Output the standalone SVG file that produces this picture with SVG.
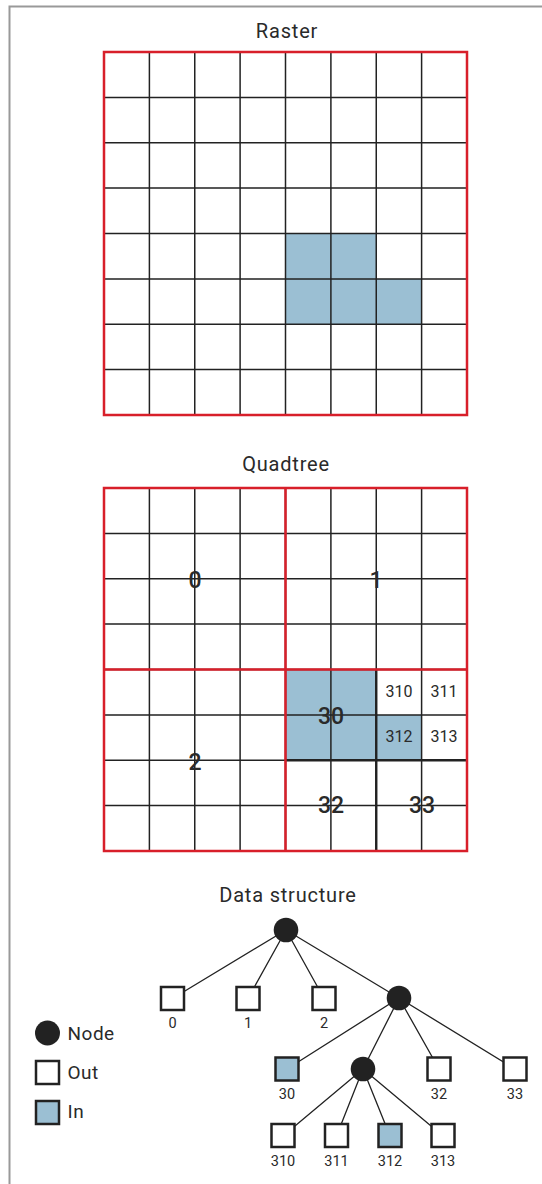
<svg xmlns="http://www.w3.org/2000/svg" xmlns:xlink="http://www.w3.org/1999/xlink" width="542" height="1184" viewBox="0 0 542 1184">
<style>
text{font-family:Roboto,"Liberation Sans",sans-serif;fill:#2a2a2a}
.title{font-size:20px;letter-spacing:0.8px;text-anchor:middle}
.big{font-size:23px;font-weight:500;text-anchor:middle}
.small{font-size:16px;text-anchor:middle}
.lab{font-size:14.5px;text-anchor:middle}
.leg{font-size:19px;letter-spacing:0.5px}
.grid{fill:none;stroke:#222;stroke-width:1.5}
.red{fill:none;stroke:#d81f2a;stroke-width:2.5}
.blue{fill:#9bbfd3}
.edge{stroke:#222;stroke-width:1.3;fill:none}
.out{fill:#fff;stroke:#222;stroke-width:2.5}
.in{fill:#9bbfd3;stroke:#222;stroke-width:2.5}
.node{fill:#222}
</style>
<defs>
<path id="gridlines" d="M149.4 0V363M194.75 0V363M240.1 0V363M285.5 0V363M330.9 0V363M376.25 0V363M421.6 0V363M104 45.4H467M104 90.75H467M104 136.1H467M104 181.5H467M104 226.9H467M104 272.25H467M104 317.6H467"/>
</defs>
<rect x="0" y="0" width="542" height="1184" fill="#fff"/>
<path d="M9.5 1184V6.5H542" fill="none" stroke="#999" stroke-width="2"/>

<g id="raster">
<text class="title" x="287" y="38">Raster</text>
<rect class="blue" x="285.5" y="233.5" width="90.75" height="45.4"/>
<rect class="blue" x="285.5" y="278.9" width="136.1" height="45.35"/>
<use xlink:href="#gridlines" class="grid" transform="translate(0,52)"/>
<rect class="red" x="104" y="52" width="363" height="363"/>
</g>

<g id="quadtree">
<text class="title" x="286" y="471">Quadtree</text>
<rect class="blue" x="285.5" y="669.5" width="90.75" height="90.75"/>
<rect class="blue" x="376.25" y="714.9" width="45.35" height="45.35"/>
<use xlink:href="#gridlines" class="grid" transform="translate(0,488)"/>
<path d="M376.25 669.5V851M285.5 760.25H467" fill="none" stroke="#222" stroke-width="2.4"/>
<rect class="red" x="104" y="488" width="363" height="363"/>
<path class="red" d="M285.5 488V851M104 669.5H467"/>
<text class="big" x="195" y="588">0</text>
<text class="big" x="376" y="588">1</text>
<text class="big" x="195" y="770">2</text>
<text class="big" x="331" y="724">30</text>
<text class="big" x="331" y="813">32</text>
<text class="big" x="422" y="813">33</text>
<text class="small" x="399" y="697">310</text>
<text class="small" x="444" y="697">311</text>
<text class="small" x="399" y="742">312</text>
<text class="small" x="444" y="742">313</text>
</g>

<text class="title" x="288" y="902">Data structure</text>

<g id="connectors">
<path class="edge" d="M286 930L172.5 998.5M286 930L248 998.5M286 930L324 998.5M286 930L399 998"/>
<path class="edge" d="M399 998L287 1069M399 998L363 1069M399 998L439 1069M399 998L515 1069"/>
<path class="edge" d="M363 1069L283 1136M363 1069L336.5 1136M363 1069L390 1136M363 1069L443 1136"/>
</g>

<g id="n-root"><circle class="node" cx="286" cy="930" r="12.3"/></g>
<g id="n-0"><rect class="out" x="161" y="987" width="23" height="23"/><text class="lab" x="172.5" y="1028">0</text></g>
<g id="n-1"><rect class="out" x="236.5" y="987" width="23" height="23"/><text class="lab" x="248" y="1028">1</text></g>
<g id="n-2"><rect class="out" x="312.5" y="987" width="23" height="23"/><text class="lab" x="324" y="1028">2</text></g>
<g id="n-3"><circle class="node" cx="399" cy="998" r="12.3"/></g>
<g id="n-30"><rect class="in" x="275.5" y="1057.5" width="23" height="23"/><text class="lab" x="287" y="1099">30</text></g>
<g id="n-31"><circle class="node" cx="363" cy="1069" r="12.3"/></g>
<g id="n-32"><rect class="out" x="427.5" y="1057.5" width="23" height="23"/><text class="lab" x="439" y="1099">32</text></g>
<g id="n-33"><rect class="out" x="503.5" y="1057.5" width="23" height="23"/><text class="lab" x="515" y="1099">33</text></g>
<g id="n-310"><rect class="out" x="271.5" y="1124" width="23" height="23"/><text class="lab" x="283" y="1166">310</text></g>
<g id="n-311"><rect class="out" x="325" y="1124" width="23" height="23"/><text class="lab" x="336.5" y="1166">311</text></g>
<g id="n-312"><rect class="in" x="378.5" y="1124" width="23" height="23"/><text class="lab" x="390" y="1166">312</text></g>
<g id="n-313"><rect class="out" x="431.5" y="1124" width="23" height="23"/><text class="lab" x="443" y="1166">313</text></g>

<g id="legend">
<circle class="node" cx="47.5" cy="1033" r="12.5"/>
<text class="leg" x="67.5" y="1039.5">Node</text>
<rect class="out" x="36" y="1061" width="23" height="23"/>
<text class="leg" x="67.5" y="1079">Out</text>
<rect class="in" x="36" y="1101" width="23" height="23"/>
<text class="leg" x="67.5" y="1118">In</text>
</g>
</svg>
